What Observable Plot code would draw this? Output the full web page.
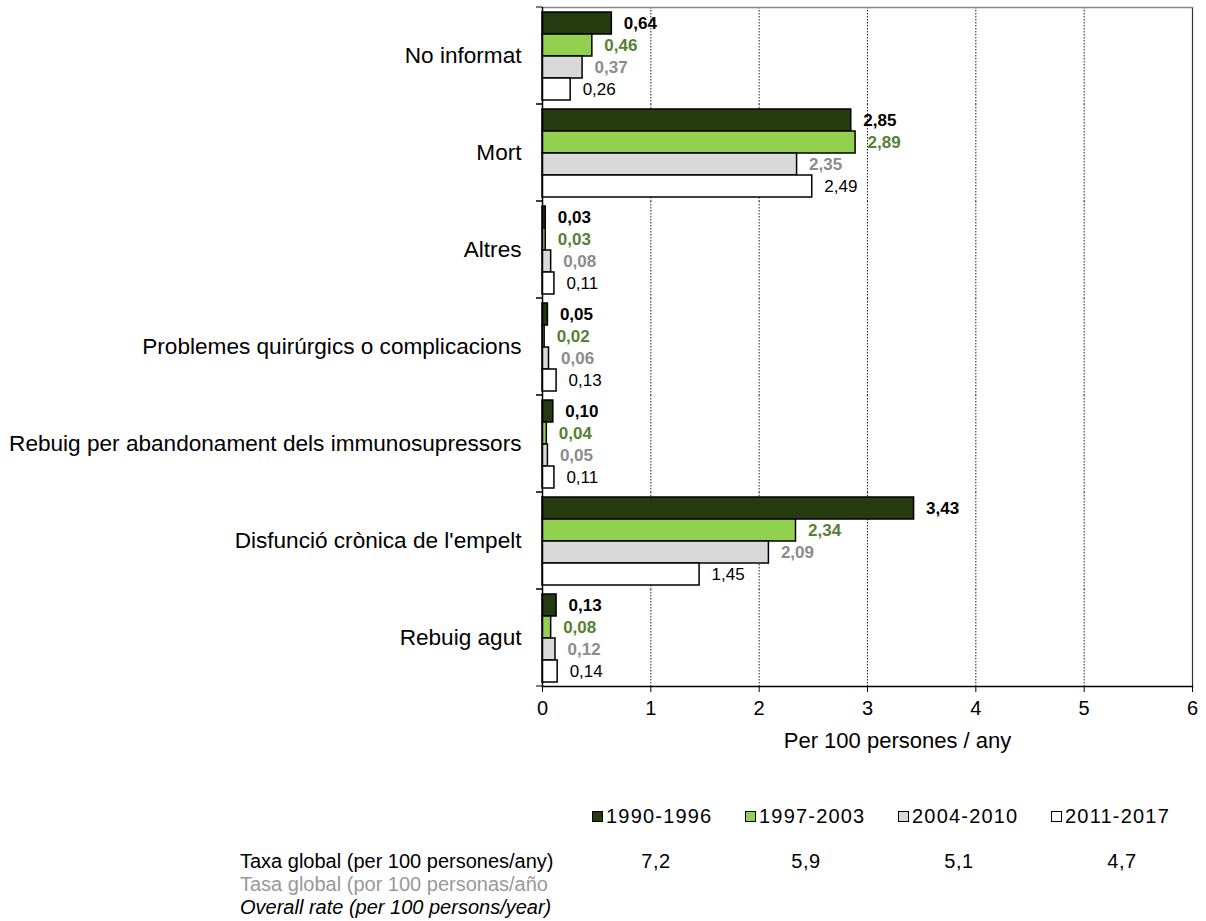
<!DOCTYPE html>
<html>
<head>
<meta charset="utf-8">
<script src="https://cdn.jsdelivr.net/npm/d3@7"></script>
<script src="https://cdn.jsdelivr.net/npm/@observablehq/plot@0.6"></script>
<style>
  body { margin: 0; background: #fff; font-family: "Liberation Sans", Arial, sans-serif; color: #000; }
  #wrap { width: 1206px; }
  #wrap svg { display: block; }
  .legend { margin-top: 35px; padding-left: 592px; display: flex; font-size: 20px; letter-spacing: 1.2px; line-height: 22px; height: 22px; }
  .legend .item { display: flex; align-items: center; flex: 0 0 153px; }
  .legend .sw { width: 9px; height: 9px; border: 1px solid #000; margin-right: 3px; }
  .rows { margin-top: 23px; }
  .row { display: flex; padding-left: 240px; font-size: 20px; line-height: 23px; height: 23px; white-space: nowrap; }
  .row .lab { display: inline-block; width: 376px; }
  .row .val { display: inline-block; width: 80px; text-align: center; letter-spacing: 0.5px; }
</style>
</head>
<body>
<div id="wrap"></div>
<script>
const categories = ["No informat", "Mort", "Altres", "Problemes quirúrgics o complicacions", "Rebuig per abandonament dels immunosupressors", "Disfunció crònica de l'empelt", "Rebuig agut"];
const series = ["1990-1996", "1997-2003", "2004-2010", "2011-2017"];
const v1990 = [0.64, 2.85, 0.03, 0.05, 0.10, 3.43, 0.13];
const v1997 = [0.46, 2.89, 0.03, 0.02, 0.04, 2.34, 0.08];
const v2004 = [0.37, 2.35, 0.08, 0.06, 0.05, 2.09, 0.12];
const v2011 = [0.26, 2.49, 0.11, 0.13, 0.11, 1.45, 0.14];
const xTicks = [0, 1, 2, 3, 4, 5, 6];
const xLabel = "Per 100 persones / any";
const taxaGlobal = [7.2, 5.9, 5.1, 4.7];
const taxaLabels = ["Taxa global (per 100 persones/any)", "Tasa global  (por 100 personas/año", "Overall rate (per 100 persons/year)"];

const fills = {"1990-1996": "#263a10", "1997-2003": "#92d050", "2004-2010": "#d9d9d9", "2011-2017": "#ffffff"};
const labelColors = {"1990-1996": "#000000", "1997-2003": "#548235", "2004-2010": "#8c8c8c", "2011-2017": "#000000"};

const allValues = [v1990, v1997, v2004, v2011];
const data = [];
categories.forEach((c, i) => series.forEach((s, j) => data.push({cat: c, series: s, value: allValues[j][i]})));

const fmt = v => d3.format(".2f")(v).replace(".", ",");

function boundaryTicks(index, scales, values, dimensions) {
  const {marginLeft, marginTop, height, marginBottom} = dimensions;
  const g = d3.create("svg:g");
  [marginTop, height - marginBottom].forEach(y => {
    g.append("line").attr("x1", marginLeft - 6).attr("x2", marginLeft).attr("y1", y).attr("y2", y)
      .attr("stroke", "#000").attr("stroke-width", 1);
  });
  return g.node();
}

const chart = Plot.plot({
  width: 1206,
  height: 770,
  marginLeft: 542,
  marginRight: 14,
  marginTop: 7,
  marginBottom: 84,
  style: {fontFamily: "'Liberation Sans', Arial, sans-serif", background: "#fff"},
  x: {domain: [0, 6]},
  y: {domain: series, paddingInner: 0, paddingOuter: 0.155, axis: null},
  fy: {domain: categories, padding: 0},
  marks: [
    Plot.ruleX([1, 2, 3, 4, 5], {stroke: "#222", strokeWidth: 1, strokeDasharray: "1.5,1.5"}),
    Plot.ruleX([6], {stroke: "#333", strokeWidth: 1.2}),
    Plot.frame({anchor: "top", facetAnchor: "top", stroke: "#888", strokeWidth: 1.5}),
    Plot.barX(data, {fy: "cat", y: "series", x: "value", fill: d => fills[d.series], stroke: "#000", strokeWidth: 1.5}),
    Plot.text(data.filter(d => d.series !== "2011-2017"), {fy: "cat", y: "series", x: "value", text: d => fmt(d.value), fill: d => labelColors[d.series], dx: 12, textAnchor: "start", fontSize: 17, fontWeight: "bold", style: "letter-spacing: 1px"}),
    Plot.text(data.filter(d => d.series === "2011-2017"), {fy: "cat", y: "series", x: "value", text: d => fmt(d.value), fill: "#000", dx: 12, textAnchor: "start", fontSize: 17, style: "letter-spacing: 1px"}),
    Plot.ruleX([0], {stroke: "#000", strokeWidth: 1.5}),
    Plot.frame({anchor: "bottom", facetAnchor: "bottom", stroke: "#000", strokeWidth: 1.5}),
    boundaryTicks,
    Plot.axisFy({anchor: "left", tickSize: 0, tickPadding: 21, fontSize: 22.6, label: null}),
    Plot.axisX({ticks: xTicks, tickSize: 6, tickPadding: 8, fontSize: 20, tickFormat: d => String(d), label: null}),
    Plot.text([xLabel], {frameAnchor: "bottom", facetAnchor: "bottom", text: d => d, dx: 30, dy: 61, fontSize: 22, style: "letter-spacing: 0.6px"})
  ]
});

const wrap = document.getElementById("wrap");
wrap.appendChild(chart);

const legend = document.createElement("div");
legend.className = "legend";
series.forEach(s => {
  const it = document.createElement("div");
  it.className = "item";
  const sw = document.createElement("div");
  sw.className = "sw";
  sw.style.background = fills[s];
  const t = document.createElement("span");
  t.textContent = s;
  it.appendChild(sw); it.appendChild(t);
  legend.appendChild(it);
});
wrap.appendChild(legend);

const rows = document.createElement("div");
rows.className = "rows";
const rowColors = ["#000", "#999", "#000"];
const valMargins = [0, 70, 73, 83];
taxaLabels.forEach((t, i) => {
  const r = document.createElement("div");
  r.className = "row";
  r.style.color = rowColors[i];
  if (i === 2) r.style.fontStyle = "italic";
  const lab = document.createElement("span");
  lab.className = "lab";
  lab.textContent = t;
  r.appendChild(lab);
  if (i === 0) {
    taxaGlobal.forEach((v, j) => {
      const s = document.createElement("span");
      s.className = "val";
      s.style.marginLeft = valMargins[j] + "px";
      s.textContent = String(v).replace(".", ",");
      r.appendChild(s);
    });
  }
  rows.appendChild(r);
});
wrap.appendChild(rows);
</script>
</body>
</html>
